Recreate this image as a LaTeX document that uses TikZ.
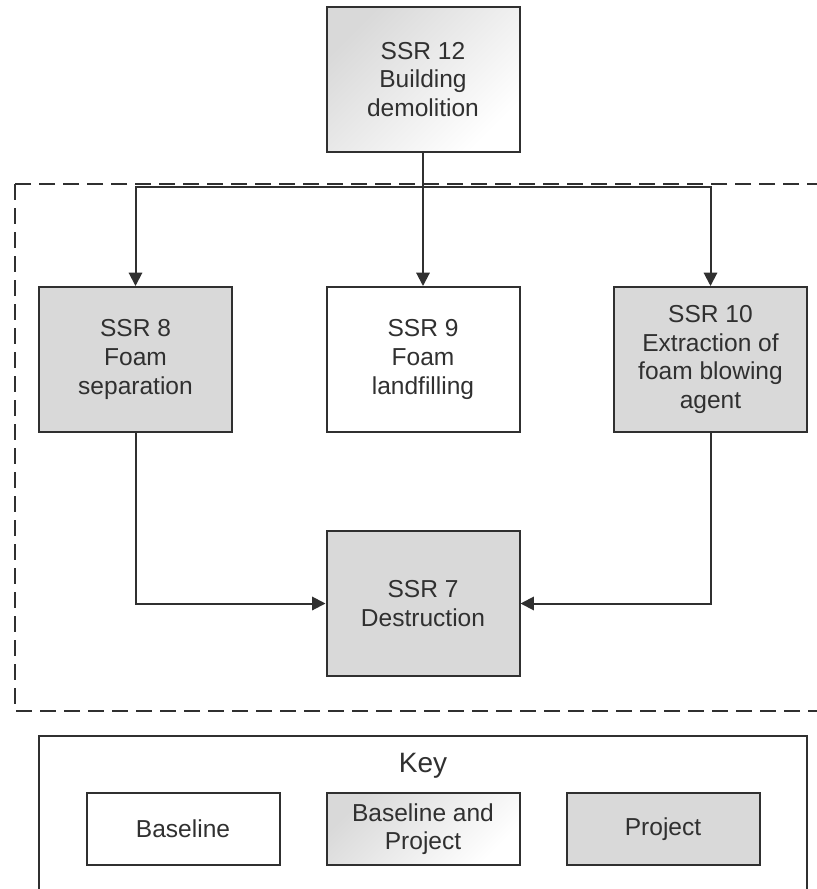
\documentclass[tikz,border=0pt]{standalone}
\usepackage{fontspec}
\setmainfont{Liberation Sans}
\usepackage{xcolor}
\usetikzlibrary{arrows.meta}

\definecolor{linegray}{HTML}{303030}
\definecolor{boxgray}{HTML}{D9D9D9}

\tikzset{
	ssrbox/.style={draw=linegray, line width=1.5pt, text=linegray, align=center,
		minimum width=144.75pt, minimum height=108.75pt, inner sep=2pt,
		font=\fontsize{18.4}{21.5}\selectfont},
	keybox/.style={ssrbox, minimum height=54pt},
	projfill/.style={fill=boxgray},
	bothfill/.style={top color=boxgray, bottom color=white, shading angle=45},
	arr/.style={draw=linegray, line width=1.5pt, -{Triangle[length=10pt, width=10pt]}}
}

\begin{document}
\begin{tikzpicture}[x=0.75pt, y=-0.75pt]
			\clip (0,0) rectangle (817,889);
			\fill[white] (0,0) rectangle (817,889);
			% system boundary
			\draw [linegray, line width=1.5pt, dash pattern=on 12pt off 6pt] (15,184) rectangle (840,711);
			% process boxes
			\node[ssrbox, bothfill] (ssr12) at (423,79.5) {SSR 12\\Building\\demolition};
			\node[ssrbox, projfill] (ssr8) at (135.5,359.5) {SSR 8\\Foam\\separation};
			\node[ssrbox] (ssr9) at (423,359.5) {SSR 9\\Foam\\landfilling};
			\node[ssrbox, projfill] (ssr10) at (710.5,359.5) {SSR 10\\Extraction of\\foam blowing\\agent};
			\node[ssrbox, projfill] (ssr7) at (423,603.5) {SSR 7\\Destruction};
			% connectors
			\coordinate (branch) at (423,187);
			\draw [arr] (ssr12.south) -- (ssr9.north);
			\draw [arr] (branch) -| (ssr8.north);
			\draw [arr] (branch) -| (ssr10.north);
			\draw [arr] (ssr8.south) |- (ssr7.west);
			\draw [arr] (ssr10.south) |- (ssr7.east);
			% key
			\draw [linegray, line width=1.5pt] (39,736) rectangle (807,920);
			\node[text=linegray, font=\fontsize{21}{24}\selectfont] (keytitle) at (423,766) {Key};
			\node[keybox] (kbase) at (183,829) {Baseline};
			\node[keybox, bothfill] (kboth) at (423,829) {Baseline and\\Project};
			\node[keybox, projfill] (kproj) at (663,829) {Project};
		\end{tikzpicture}
\end{document}
